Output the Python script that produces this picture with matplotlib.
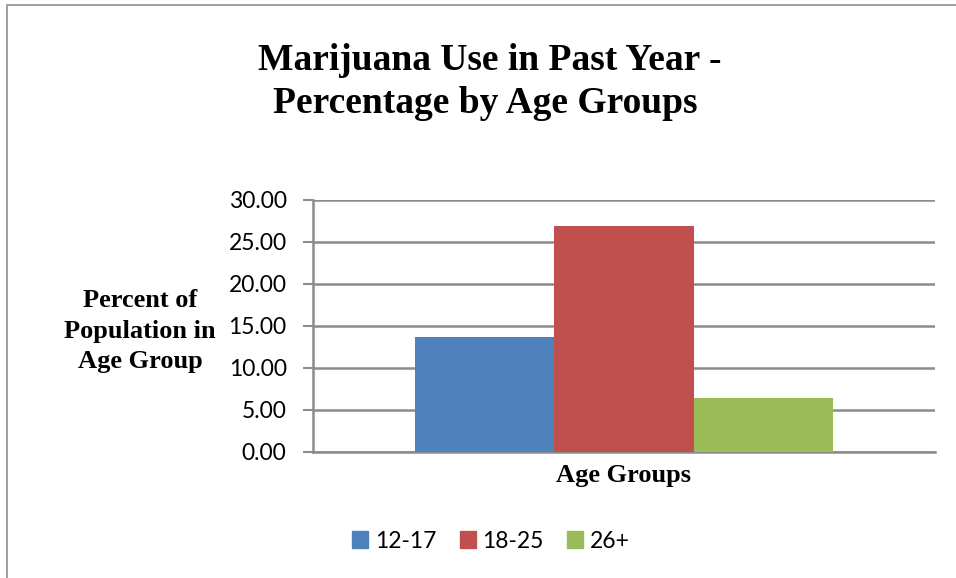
import matplotlib
matplotlib.use("Agg")
import matplotlib.pyplot as plt
from matplotlib.patches import Rectangle, Patch

categories = ["Age Groups"]
series = ["12-17", "18-25", "26+"]
values = [13.7, 26.9, 6.4]
colors = ["#4f81bd", "#c0504d", "#9bbb59"]
yticks = [0, 5, 10, 15, 20, 25, 30]

W, H = 956, 578
fig = plt.figure(figsize=(W / 100, H / 100), dpi=100)
fig.patch.set_facecolor("white")
fig.patches.append(Rectangle((7/W, -0.2), 1.2, 1.2 - 5/H, transform=fig.transFigure,
                             fill=False, edgecolor="#999999", lw=1.3))

ax = fig.add_axes([313/W, 1 - 452/H, (935 - 313)/W, (452 - 200)/H])
w = 0.2245
for i, (s, v, c) in enumerate(zip(series, values, colors)):
    ax.bar(0 + (i - 1) * w, v, width=w, color=c, label=s, zorder=3)

ax.set_xlim(-0.5, 0.5)
ax.set_ylim(0, 30)
ax.set_yticks(yticks)
ax.set_yticklabels([f"{t:.2f}" for t in yticks], fontfamily="Lato", fontsize=16.5)
ax.set_xticks([])
ax.yaxis.grid(True, color="#8c8c8c", lw=1.8, zorder=0)
ax.tick_params(axis="y", length=7, width=1.5, color="#8c8c8c", pad=12)
for s in ["top", "right"]:
    ax.spines[s].set_visible(False)
for s in ["left", "bottom"]:
    ax.spines[s].set_color("#8c8c8c")
    ax.spines[s].set_linewidth(1.8)

serif = dict(fontfamily="Liberation Serif", fontweight="bold")
fig.text(624/W, 1 - 482/H, categories[0], ha="center", va="baseline", fontsize=19, **serif)

for txt, y in zip(["Percent of", "Population in", "Age Group"], [307, 338, 368]):
    fig.text(140/W, 1 - y/H, txt, ha="center", va="baseline", fontsize=19, **serif)

fig.text(490/W, 1 - 70/H, "Marijuana Use in Past Year -", ha="center", va="baseline", fontsize=27, **serif)
fig.text(485/W, 1 - 113/H, "Percentage by Age Groups", ha="center", va="baseline", fontsize=27, **serif)

handles = [Patch(color=c, label=s) for s, c in zip(series, colors)]
fig.legend(handles=handles, loc="center", bbox_to_anchor=(491/W, 1 - 541/H), ncol=3, frameon=False,
           prop={"family": "Lato", "size": 16.5}, handlelength=0.7, handleheight=0.7,
           handletextpad=0.3, columnspacing=1.0, borderpad=0)

fig.savefig("out.png", dpi=100)
